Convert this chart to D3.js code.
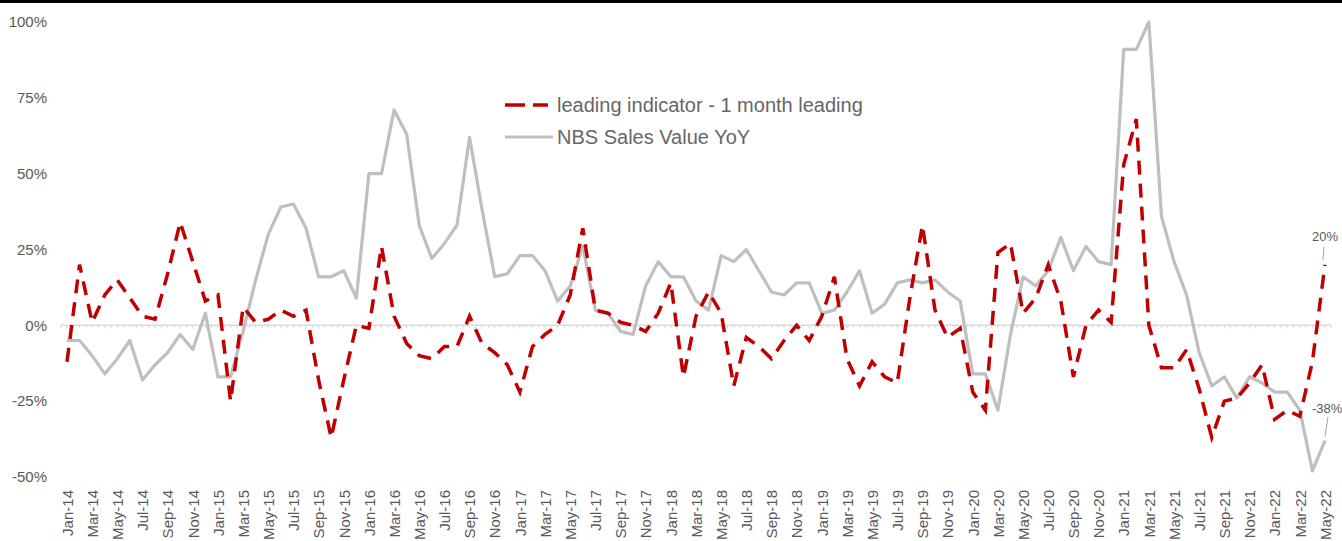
<!DOCTYPE html>
<html>
<head>
<meta charset="utf-8">
<script src="https://cdn.jsdelivr.net/npm/d3@7"></script>
<style>
body { margin: 0; background: #fff; }
text { font-family: "Liberation Sans", Arial, sans-serif; }
</style>
</head>
<body>
<script>
var monthNames = ["Jan","Feb","Mar","Apr","May","Jun","Jul","Aug","Sep","Oct","Nov","Dec"];
var startYear = 14, endYear = 22, lastMonth = 5;

// leading indicator - 1 month leading (%)
var leadingValues = [
	-12, 20, 1, 10, 15, 9, 3, 2, 17, 34, 21, 8,
	10, -25, 6, 1, 2, 5, 3, 5, -18, -37, -18, 0,
	-1, 26, 3, -6, -10, -11, -7, -7, 3, -6, -9, -13,
	-22, -7, -3, 0, 10, 32, 5, 4, 1, 0, -2, 4,
	14, -17, 3, 11, 4, -20, -4, -7, -11, -5, 0, -5,
	3, 16, -11, -20, -12, -17, -19, 9, 33, 5, -4, -1,
	-22, -28, 24, 27, 4, 9, 20, 8, -17, 0, 5, 1,
	53, 68, 0, -14, -14, -8, -21, -37, -25, -24, -19, -13,
	-31, -28, -30, -12, 20
];

// NBS Sales Value YoY (%)
var nbsValues = [
	-5, -5, -10, -16, -11, -5, -18, -13, -9, -3, -8, 4,
	-17, -17, -2, 15, 30, 39, 40, 32, 16, 16, 18, 9,
	50, 50, 71, 63, 33, 22, 27, 33, 62, 38, 16, 17,
	23, 23, 18, 8, 13, 26, 5, 4, -2, -3, 13, 21,
	16, 16, 8, 5, 23, 21, 25, 18, 11, 10, 14, 14,
	4, 5, 11, 18, 4, 7, 14, 15, 14, 15, 11, 8,
	-16, -16, -28, -3, 16, 13, 18, 29, 18, 26, 21, 20,
	91, 91, 100, 36, 21, 10, -9, -20, -17, -24, -17, -19,
	-22, -22, -28, -48, -38
];

var yTicks = [-50, -25, 0, 25, 50, 75, 100];

var months = [];
for (var yr = startYear; yr <= endYear; yr++) {
	for (var m = 0; m < 12; m++) {
		if (yr == endYear && m >= lastMonth) break;
		months.push(monthNames[m] + "-" + yr);
	}
}

var svgWidth = 1342, svgHeight = 541;
var svg = d3.select("body").append("svg")
	.attr("width", svgWidth)
	.attr("height", svgHeight);

svg.append("rect")
	.attr("x", 0).attr("y", 0)
	.attr("width", svgWidth).attr("height", 3)
	.attr("fill", "#000");

var x = d3.scalePoint().domain(months).range([67, 1325]);
var step = x.step();
var y = d3.scaleLinear().domain([-50, 100]).range([477, 22]);

// y axis labels only
var yAxis = svg.append("g")
	.attr("transform", "translate(47,0)")
	.call(d3.axisLeft(y).tickValues(yTicks).tickSize(0).tickPadding(0)
		.tickFormat(function(d) { return d + "%"; }));
yAxis.select(".domain").remove();
yAxis.selectAll("text")
	.attr("fill", "#595959")
	.style("font-size", "15px");

// zero line with little ticks
var zeroY = y(0);
var x0 = x(months[0]) - step / 2, x1 = x(months[months.length - 1]) + step / 2;
svg.append("line")
	.attr("x1", x0).attr("x2", x1)
	.attr("y1", zeroY).attr("y2", zeroY)
	.attr("stroke", "#D9D9D9")
	.attr("stroke-width", 1.5);
var tickPos = d3.range(x0, x1 + 0.1, step / 2);
svg.append("g").selectAll("line")
	.data(tickPos)
	.enter()
  .append("line")
	.attr("x1", function(d) { return d; })
	.attr("x2", function(d) { return d; })
	.attr("y1", zeroY)
	.attr("y2", zeroY + 3)
	.attr("stroke", "#D9D9D9")
	.attr("stroke-width", 1);

// x axis labels, every other month
var xAxis = svg.append("g")
	.attr("transform", "translate(0,490)")
	.call(d3.axisBottom(x)
		.tickValues(months.filter(function(d, i) { return i % 2 == 0; }))
		.tickSize(0).tickPadding(0));
xAxis.select(".domain").remove();
xAxis.selectAll("text")
	.attr("fill", "#595959")
	.style("font-size", "15px")
	.attr("text-anchor", "end")
	.attr("transform", "rotate(-90)")
	.attr("x", 0)
	.attr("y", 0)
	.attr("dy", "0.35em");

var line = d3.line()
	.x(function(d, i) { return x(months[i]); })
	.y(function(d) { return y(d); });

svg.append("path")
	.datum(nbsValues)
	.attr("d", line)
	.attr("fill", "none")
	.attr("stroke", "#BFBFBF")
	.attr("stroke-width", 3.2)
	.attr("stroke-linejoin", "round");

svg.append("path")
	.datum(leadingValues)
	.attr("d", line)
	.attr("fill", "none")
	.attr("stroke", "#C00000")
	.attr("stroke-width", 3.5)
	.attr("stroke-dasharray", "14,9");

// end labels
var lastX = x(months[months.length - 1]);
var lastLead = leadingValues[leadingValues.length - 1];
var lastNbs = nbsValues[nbsValues.length - 1];

svg.append("line")
	.attr("x1", lastX - 1).attr("x2", lastX - 2)
	.attr("y1", y(lastLead) - 18).attr("y2", y(lastLead) - 4)
	.attr("stroke", "#A6A6A6").attr("stroke-width", 1);
svg.append("text")
	.attr("x", lastX)
	.attr("y", y(lastLead) - 24)
	.attr("text-anchor", "middle")
	.attr("fill", "#595959")
	.style("font-size", "13px")
	.text(lastLead + "%");

svg.append("line")
	.attr("x1", lastX + 3).attr("x2", lastX)
	.attr("y1", y(lastNbs) - 24).attr("y2", y(lastNbs) - 4)
	.attr("stroke", "#A6A6A6").attr("stroke-width", 1);
svg.append("text")
	.attr("x", lastX - 13)
	.attr("y", y(lastNbs) - 28)
	.attr("fill", "#595959")
	.style("font-size", "13px")
	.text(lastNbs + "%");

// legend
var legend = svg.append("g").attr("transform", "translate(505,0)");
legend.append("line")
	.attr("x1", 0).attr("x2", 43)
	.attr("y1", 105).attr("y2", 105)
	.attr("stroke", "#C00000")
	.attr("stroke-width", 3.5)
	.attr("stroke-dasharray", "20,8");
legend.append("text")
	.attr("x", 52).attr("y", 105)
	.attr("dy", "0.35em")
	.attr("fill", "#666666")
	.style("font-size", "20px")
	.text("leading indicator - 1 month leading");
legend.append("line")
	.attr("x1", 0).attr("x2", 48)
	.attr("y1", 137).attr("y2", 137)
	.attr("stroke", "#BFBFBF")
	.attr("stroke-width", 3.2);
legend.append("text")
	.attr("x", 52).attr("y", 137)
	.attr("dy", "0.35em")
	.attr("fill", "#666666")
	.style("font-size", "20px")
	.text("NBS Sales Value YoY");
</script>
</body>
</html>
